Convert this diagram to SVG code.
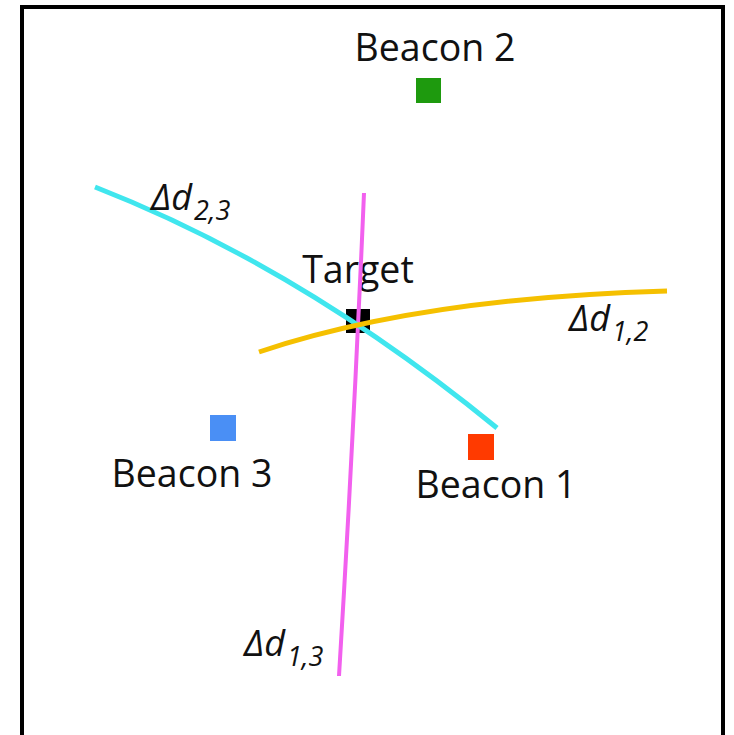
<svg xmlns="http://www.w3.org/2000/svg" width="734" height="735" viewBox="0 0 734 735">
<style>
.lbl{font-family:"Open Sans","Liberation Sans",sans-serif;font-size:37.5px;fill:#111}
.dl{font-family:"Open Sans","Liberation Sans",sans-serif;font-style:italic;font-size:36px;fill:#111}
.sub{font-size:27px}
.curve{fill:none;stroke-linecap:butt}
</style>
<rect width="734" height="735" fill="#fff"/>
<path d="M22,745 V7 H723 V745" fill="none" stroke="#000" stroke-width="4"/>
<g id="target">
<rect x="346" y="309" width="24" height="24" fill="#000"/>
<text class="lbl" x="358" y="283" text-anchor="middle">Target</text>
</g>
<g id="curves">
<path class="curve" d="M364,193 Q354,430 339,676" stroke="#F260EE" stroke-width="4"/>
<path class="curve" d="M95,187 Q300,267 497,428" stroke="#40E6EE" stroke-width="5"/>
<path class="curve" d="M259,352 Q420,298 667,291" stroke="#F5C000" stroke-width="5"/>
</g>
<g id="beacon2">
<text class="lbl" x="435" y="61" text-anchor="middle">Beacon 2</text>
<rect x="416" y="78" width="25" height="25" fill="#1E9A0E"/>
</g>
<g id="beacon3">
<rect x="210" y="415" width="26" height="26" fill="#4A8FF5"/>
<text class="lbl" x="192" y="487" text-anchor="middle">Beacon 3</text>
</g>
<g id="beacon1">
<rect x="468" y="434" width="26" height="26" fill="#FF3A00"/>
<text class="lbl" x="496" y="498" text-anchor="middle">Beacon 1</text>
</g>
<g id="labels">
<text class="dl" x="151" y="210">Δd<tspan class="sub" dx="2" dy="10">2,3</tspan></text>
<text class="dl" x="569" y="331">Δd<tspan class="sub" dx="2" dy="10">1,2</tspan></text>
<text class="dl" x="244" y="656">Δd<tspan class="sub" dx="2" dy="10">1,3</tspan></text>
</g>
</svg>
